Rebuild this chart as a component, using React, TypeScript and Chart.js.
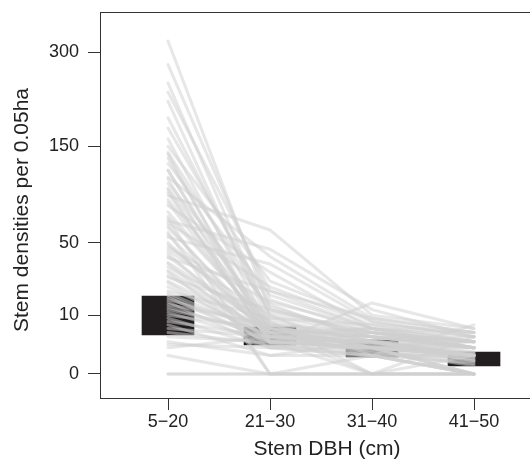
import React, { useEffect, useRef } from "react";
import { Chart, registerables, LinearScale } from "chart.js";

// ---------- data ----------
const CATEGORIES = ["5\u221220", "21\u221230", "31\u221240", "41\u221250"];
const CATEGORY_X = [1, 2, 3, 4];
const Y_TICKS = [0, 10, 50, 150, 300];

// stem densities per plot (one entry per plot) in each DBH class
const DENS_5_20 = [321, 277, 245, 230, 215, 190, 175, 160, 150, 142, 135, 128, 120, 112, 105, 98, 92, 88, 82, 76, 70, 66, 62, 58, 54, 50, 46, 42, 39, 36, 33, 30, 27, 25, 22, 20, 18, 16, 15, 14, 13, 12, 11, 10, 9, 8, 7, 6, 5, 4, 3, 2.5, 2, 0, 0, 1, 100, 44, 140, 68, 120, 85, 64, 48, 35, 28, 24, 19, 110, 72, 56, 40, 17, 31, 95];
const DENS_21_30 = [12, 16, 9, 20, 7, 10, 14, 6, 25, 11, 5, 18, 4, 40, 13, 3, 60, 7, 30, 6, 0, 22, 5, 0, 35, 4, 15, 3, 20, 6, 8, 2, 12, 5, 4, 9, 3, 6, 2, 7, 4, 5, 3, 6, 2, 4, 1, 4, 2.6, 3, 1, 2, 4, 0, 0, 0, 8, 10, 3, 45, 5.5, 4.5, 3.5, 6, 2.8, 5, 3.2, 4.2, 2.5, 6.3, 3.8, 5.2, 2.9, 4.8, 3.3];
const DENS_31_40 = [4, 5, 3, 6, 2, 4, 3, 2, 8, 5, 1, 6, 3, 9, 4, 2, 10, 3, 6, 2, 1, 7, 5, 0, 8, 2, 6, 2, 9, 4, 3, 2, 5, 6, 3, 7, 2, 4, 1, 5, 3, 0, 2, 4, 5, 3, 1, 4, 14.6, 2, 3, 1, 6, 0, 0, 0, 0, 1, 0, 12, 2.5, 1.5, 3, 2, 1.2, 2.8, 1.8, 2.2, 1, 3.2, 1.6, 2.6, 2.1, 1.3, 2.9];
const DENS_41_50 = [2, 3, 1, 2, 1, 3, 2, 0, 4, 2, 1, 5, 1, 5, 2, 0, 6, 4, 3, 1, 0, 3, 2, 0, 4, 2, 3, 1, 5, 2, 1, 0, 3, 4, 2, 5, 1, 3, 0, 2, 1, 4, 1, 2, 3, 1, 0, 2, 6, 3, 1, 0, 2, 0, 0, 0, 0, 7, 1, 4, 1.2, 0.5, 1, 0.8, 0.3, 1.3, 0.6, 1, 0.4, 1.4, 0.2, 0.9, 1.1, 0.7, 0.5];

// summary box per DBH class (lower / upper)
const BOX_LOW = [4.4, 2.43, 0.84, 0.19];
const BOX_HIGH = [17.6, 6.39, 3.35, 1.4];

// ---------- square-root scale ----------
const T = (v: number) => Math.sign(v) * Math.sqrt(Math.abs(v));

class SqrtScale extends LinearScale {
  static id = "sqrt";
  static defaults = {};
  getPixelForValue(value: any) {
    if (value === null || value === undefined || isNaN(value)) return NaN;
    const a = T(this.min);
    const b = T(this.max);
    return this.getPixelForDecimal((T(value) - a) / (b - a));
  }
  getValueForPixel(pixel: number) {
    const a = T(this.min);
    const b = T(this.max);
    const s = a + this.getDecimalForPixel(pixel) * (b - a);
    return s * Math.abs(s);
  }
}

Chart.register(...registerables, SqrtScale);

const FONT = '"Liberation Sans", Arial, Helvetica, sans-serif';
const INK = "#222222";
const AXIS = "#333333";

const framePlugin = {
  id: "frameAndTitles",
  afterDraw(chart: any) {
    const { ctx, chartArea } = chart;
    ctx.save();
    ctx.strokeStyle = AXIS;
    ctx.lineWidth = 1;
    ctx.strokeRect(
      Math.round(chartArea.left) - 0.5,
      Math.round(chartArea.top) + 0.5,
      chartArea.right - chartArea.left + 20,
      Math.round(chartArea.bottom) - Math.round(chartArea.top)
    );
    ctx.fillStyle = INK;
    ctx.font = `21px ${FONT}`;
    ctx.textAlign = "center";
    ctx.textBaseline = "alphabetic";
    ctx.fillText("Stem DBH (cm)", 327, 455);
    ctx.translate(28, 210);
    ctx.rotate(-Math.PI / 2);
    ctx.fillText("Stem densities per 0.05ha", 0, 0);
    ctx.restore();
  },
};

export default function App() {
  const ref = useRef<HTMLCanvasElement | null>(null);

  useEffect(() => {
    if (!ref.current) return;
    const lineSets = DENS_5_20.map((_, i) => ({
      type: "line" as const,
      data: CATEGORY_X.map((x, k) => ({
        x,
        y: [DENS_5_20, DENS_21_30, DENS_31_40, DENS_41_50][k][i],
      })),
      borderColor: "rgba(208,208,208,0.5)",
      borderWidth: 3,
      pointRadius: 0,
      borderCapStyle: "round" as const,
      borderJoinStyle: "round" as const,
      tension: 0,
      order: 1,
    }));
    const chart = new Chart(ref.current, {
      type: "bar",
      data: {
        datasets: [
          {
            type: "bar",
            data: CATEGORY_X.map((x, k) => ({ x, y: [BOX_LOW[k], BOX_HIGH[k]] })) as any,
            backgroundColor: "#221e1f",
            borderWidth: 0,
            barThickness: 52,
            order: 10,
          },
          ...(lineSets as any[]),
        ],
      },
      plugins: [framePlugin],
      options: {
        animation: false,
        responsive: true,
        maintainAspectRatio: false,
        layout: { padding: { top: 12, left: 0, right: 0, bottom: 0 } },
        plugins: { legend: { display: false }, tooltip: { enabled: false } },
        scales: {
          x: {
            type: "linear",
            min: 0.343,
            max: 4.843,
            offset: false,
            afterFit: (s: any) => {
              s.height = 67;
              s.paddingLeft = 0;
              s.paddingRight = 0;
            },
            afterBuildTicks: (s: any) => {
              s.ticks = CATEGORY_X.map((v) => ({ value: v }));
            },
            grid: {
              offset: false,
              drawOnChartArea: false,
              drawTicks: true,
              tickLength: 12,
              color: AXIS,
              tickColor: AXIS,
              lineWidth: 1,
            },
            border: { display: false },
            ticks: {
              autoSkip: false,
              maxRotation: 0,
              padding: 1,
              color: INK,
              font: { family: FONT, size: 18 },
              callback: (v: any) => CATEGORIES[CATEGORY_X.indexOf(Number(v))] ?? "",
            },
          },
          y: {
            type: "sqrt" as any,
            min: -1.667,
            max: 379.2,
            afterFit: (s: any) => {
              s.width = 101;
              s.paddingTop = 0;
              s.paddingBottom = 0;
            },
            afterBuildTicks: (s: any) => {
              s.ticks = Y_TICKS.map((v) => ({ value: v }));
            },
            grid: {
              drawOnChartArea: false,
              drawTicks: true,
              tickLength: 13,
              color: AXIS,
              tickColor: AXIS,
              lineWidth: 1,
            },
            border: { display: false },
            ticks: {
              autoSkip: false,
              padding: 9,
              color: INK,
              font: { family: FONT, size: 18 },
              callback: (v: any) => String(v),
            },
          } as any,
        },
      },
    });
    return () => chart.destroy();
  }, []);

  return (
    <div
      style={{
        position: "fixed",
        left: 0,
        top: 0,
        width: 530,
        height: 465,
        overflow: "hidden",
        background: "#ffffff",
      }}
    >
      <div style={{ position: "relative", width: 560, height: 465 }}>
        <canvas ref={ref} />
      </div>
    </div>
  );
}
